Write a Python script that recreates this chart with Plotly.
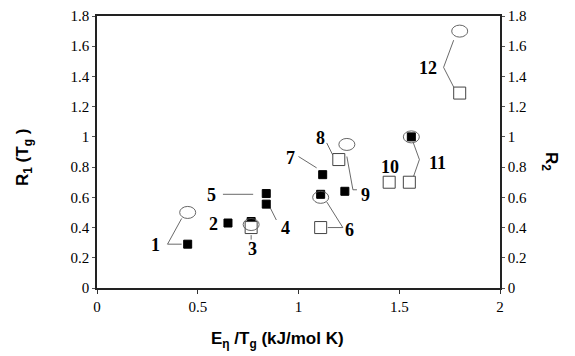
import plotly.graph_objects as go

# Data
r1_x = [0.45, 0.65, 0.765, 0.84, 0.84, 1.11, 1.12, 1.23, 1.56]
r1_y = [0.29, 0.43, 0.44, 0.555, 0.625, 0.62, 0.75, 0.64, 1.00]

r2_x = [0.765, 1.11, 1.20, 1.45, 1.55, 1.80]
r2_y = [0.40, 0.40, 0.85, 0.70, 0.70, 1.29]

ell_x = [0.45, 0.765, 1.11, 1.24, 1.56, 1.80]
ell_y = [0.50, 0.42, 0.60, 0.95, 1.00, 1.70]

label_text = ["1", "2", "3", "4", "5", "6", "7", "8", "9", "10", "11", "12"]
label_x = [0.29, 0.577, 0.77, 0.935, 0.57, 1.255, 0.96, 1.107, 1.33, 1.455, 1.69, 1.643]
label_y = [0.285, 0.425, 0.26, 0.40, 0.615, 0.385, 0.86, 0.99, 0.615, 0.80, 0.83, 1.457]

leaders = [
    [(0.42, 0.46), (0.35, 0.29), (0.42, 0.29)],
    [(0.765, 0.35), (0.765, 0.32)],
    [(0.86, 0.53), (0.89, 0.45)],
    [(0.625, 0.62), (0.775, 0.62)],
    [(1.145, 0.40), (1.22, 0.40)],
    [(1.14, 0.57), (1.22, 0.40)],
    [(1.0, 0.87), (1.09, 0.795)],
    [(1.14, 0.96), (1.17, 0.88)],
    [(1.24, 0.87), (1.27, 0.65), (1.29, 0.65)],
    [(1.57, 0.96), (1.60, 0.85), (1.57, 0.735)],
    [(1.77, 1.64), (1.72, 1.46), (1.77, 1.33)],
]

x_ticks = [0, 0.5, 1, 1.5, 2]
x_tick_text = ["0", "0.5", "1", "1.5", "2"]
y_ticks = [0, 0.2, 0.4, 0.6, 0.8, 1.0, 1.2, 1.4, 1.6, 1.8]
y_tick_text = ["0", "0.2", "0.4", "0.6", "0.8", "1", "1.2", "1.4", "1.6", "1.8"]

SERIF = "Liberation Serif, Times New Roman, serif"
SANS = "Liberation Sans, Arial, sans-serif"

fig = go.Figure()

# leader lines
lx, ly = [], []
for seg in leaders:
    for (a, b) in seg:
        lx.append(a)
        ly.append(b)
    lx.append(None)
    ly.append(None)
fig.add_trace(go.Scatter(x=lx, y=ly, mode="lines",
                         line=dict(color="#444", width=0.8),
                         hoverinfo="skip", showlegend=False))

# ellipses as shapes anchored on data points (pixel sized)
shapes = []
for ex, ey in zip(ell_x, ell_y):
    shapes.append(dict(type="circle", xref="x", yref="y",
                       xsizemode="pixel", ysizemode="pixel",
                       xanchor=ex, yanchor=ey,
                       x0=-8, x1=8, y0=-6, y1=6,
                       line=dict(color="#555", width=0.9),
                       fillcolor="rgba(0,0,0,0)", layer="above"))

fig.add_trace(go.Scatter(x=r2_x, y=r2_y, mode="markers", yaxis="y2",
                         marker=dict(symbol="square", size=12, color="white",
                                     line=dict(color="#444", width=1)),
                         showlegend=False))
fig.add_trace(go.Scatter(x=r1_x, y=r1_y, mode="markers",
                         marker=dict(symbol="square", size=8, color="black",
                                     line=dict(color="black", width=1)),
                         showlegend=False))

annotations = []
for t, x, y in zip(label_text, label_x, label_y):
    annotations.append(dict(x=x, y=y, xref="x", yref="y", text="<b>" + t + "</b>",
                            showarrow=False, xanchor="center", yanchor="middle",
                            font=dict(family=SERIF, size=18, color="black")))

annotations += [
    dict(x=-0.181, y=0.478, xref="paper", yref="paper", textangle=-90, showarrow=False,
         xanchor="center", yanchor="middle",
         text="<b>R<sub>1</sub> (T<sub>g</sub> )</b>",
         font=dict(family=SANS, size=17, color="black")),
    dict(x=1.124, y=0.463, xref="paper", yref="paper", textangle=90, showarrow=False,
         xanchor="center", yanchor="middle",
         text="<b>R<sub>2</sub></b>",
         font=dict(family=SANS, size=17, color="black")),
    dict(x=0.449, y=-0.191, xref="paper", yref="paper", showarrow=False,
         xanchor="center", yanchor="middle",
         text="<b>E<sub>η</sub> /T<sub>g</sub> (kJ/mol K)</b>",
         font=dict(family=SANS, size=17, color="black")),
]

tickfont = dict(family=SERIF, size=15, color="black")

fig.update_layout(
    width=567, height=348,
    margin=dict(l=89, r=75, t=8, b=68, autoexpand=False),
    paper_bgcolor="white", plot_bgcolor="white",
    font=dict(family=SERIF, size=15, color="black"),
    showlegend=False,
    shapes=shapes,
    annotations=annotations,
    xaxis=dict(range=[0, 2], tickvals=x_ticks, ticktext=x_tick_text,
               ticks="outside", ticklen=4, tickcolor="#333",
               showgrid=False, zeroline=False,
               showline=True, linecolor="#222", linewidth=1.5, mirror=True,
               tickfont=tickfont),
    yaxis=dict(range=[0, 1.8], tickvals=y_ticks, ticktext=y_tick_text,
               ticks="outside", ticklen=3, tickcolor="#555",
               showgrid=False, zeroline=False,
               showline=True, linecolor="#222", linewidth=1.5,
               tickfont=tickfont),
    yaxis2=dict(range=[0, 1.8], tickvals=y_ticks, ticktext=y_tick_text,
                overlaying="y", side="right",
                ticks="outside", ticklen=3, tickcolor="#555",
                showgrid=False, zeroline=False,
                showline=True, linecolor="#222", linewidth=1.5,
                tickfont=tickfont),
)

fig.write_html("out.html")
